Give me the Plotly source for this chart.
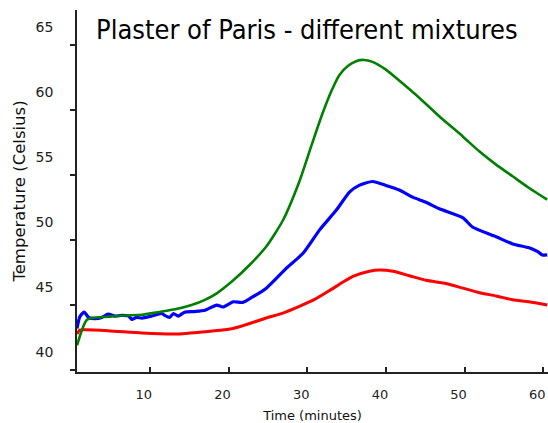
import plotly.graph_objects as go

# Temperature readings (Celsius) against time (minutes) for three plaster mixtures
green_time = [0.74, 1.1, 1.5, 1.97, 2.6, 4.7, 6.8, 9.0, 11.0, 13.2, 15.3, 17.0, 18.5, 20.6,
              22.7, 24.8, 26.9, 29.0, 30.5, 31.8, 33.1, 34.1, 35.2, 36.2, 37.2, 38.3, 40.0,
              42.1, 44.3, 46.8, 49.8, 51.9, 54.0, 56.1, 58.2, 60.5]
green_temp = [41.9, 42.6, 43.3, 43.85, 44.0, 44.1, 44.2, 44.25, 44.45, 44.67, 45.0, 45.4, 45.9, 46.9,
              48.1, 49.5, 51.5, 54.5, 57.2, 59.5, 61.5, 62.7, 63.4, 63.75, 63.85, 63.7, 63.1,
              62.05, 60.9, 59.5, 57.95, 56.8, 55.8, 54.9, 54.0, 53.1]

blue_time = [0.74, 1.1, 1.66, 2.2, 3.0, 3.9, 4.7, 5.6, 6.4, 7.3, 7.7, 8.3, 9.0, 10.2, 11.5,
             11.9, 12.5, 13.0, 13.6, 14.4, 15.7, 17.0, 18.5, 19.3, 20.6, 21.8, 23.0, 24.8,
             27.3, 29.5, 31.6, 33.7, 35.4, 36.6, 38.3, 40.0, 41.7, 43.4, 45.1, 46.8, 49.8,
             51.0, 54.0, 56.1, 58.2, 59.3, 59.9, 60.5]
blue_temp = [43.2, 44.1, 44.46, 44.05, 43.95, 44.05, 44.3, 44.15, 44.2, 44.15, 43.9, 44.05, 44.0,
             44.15, 44.35, 44.2, 44.05, 44.35, 44.15, 44.45, 44.5, 44.6, 45.0, 44.85, 45.25,
             45.2, 45.6, 46.3, 47.8, 49.0, 50.8, 52.3, 53.7, 54.2, 54.5, 54.2, 53.85, 53.3,
             52.9, 52.4, 51.7, 51.0, 50.25, 49.7, 49.4, 49.1, 48.85, 48.85]

red_time = [0.74, 1.1, 1.75, 4.7, 9.0, 13.2, 17.0, 20.6, 24.8, 27.0, 29.0, 31.0, 32.8, 34.5,
            35.8, 37.9, 39.2, 40.9, 43.0, 45.1, 47.65, 49.8, 51.9, 54.0, 56.1, 58.2, 60.5]
red_temp = [42.77, 43.08, 43.1, 43.03, 42.85, 42.77, 42.95, 43.2, 44.0, 44.4, 44.9, 45.45, 46.1,
            46.75, 47.2, 47.6, 47.7, 47.6, 47.25, 46.9, 46.65, 46.3, 45.95, 45.7, 45.4, 45.25, 45.0]

x_ticks = [10, 20, 30, 40, 50, 60]
y_ticks = [40, 45, 50, 55, 60, 65]

TEXT_FONT = "DejaVu Sans"

fig = go.Figure()
for t, temp, color, width in [
    (red_time, red_temp, "#ff0000", 3),
    (blue_time, blue_temp, "#0000ff", 3.2),
    (green_time, green_temp, "#008000", 2.6),
]:
    fig.add_trace(go.Scatter(
        x=t, y=temp, mode="lines",
        line=dict(color=color, width=width, shape="spline", smoothing=0.6),
        showlegend=False, hoverinfo="skip",
    ))

fig.update_layout(
    width=548, height=423,
    margin=dict(l=77, r=0, t=10, b=51),
    paper_bgcolor="white", plot_bgcolor="white",
    font=dict(family=TEXT_FONT, color="#222222"),
    xaxis=dict(
        range=[0.74, 60.6], tickvals=x_ticks, ticktext=[str(v) for v in x_ticks],
        showgrid=False, zeroline=False, showline=True, linecolor="#222222", linewidth=1.5,
        ticks="inside", ticklen=5, tickcolor="#222222", tickwidth=1.5,
        tickfont=dict(size=13, color="#222222"), ticklabelshift=-6, ticklabelstandoff=10,
        title=dict(text="Time (minutes)", font=dict(size=13, color="#111111"), standoff=10),
    ),
    yaxis=dict(
        range=[39.85, 67.69], tickvals=y_ticks, ticktext=[str(v) for v in y_ticks],
        showgrid=False, zeroline=False, showline=True, linecolor="#222222", linewidth=1.5,
        ticks="outside", ticklen=5, tickcolor="#222222", tickwidth=1.5,
        tickfont=dict(size=14, color="#222222"), ticklabelshift=-18, ticklabelstandoff=14,
        title=dict(text="Temperature (Celsius)", font=dict(size=16.5, color="#111111"), standoff=6),
    ),
    annotations=[dict(
        text="Plaster of Paris - different mixtures",
        xref="paper", yref="paper", x=0.036, y=0.9475,
        xanchor="left", yanchor="middle", showarrow=False,
        font=dict(family="DejaVu Sans Condensed, " + TEXT_FONT, size=27, color="#000000"),
    )],
)

fig.write_html("out.html")
